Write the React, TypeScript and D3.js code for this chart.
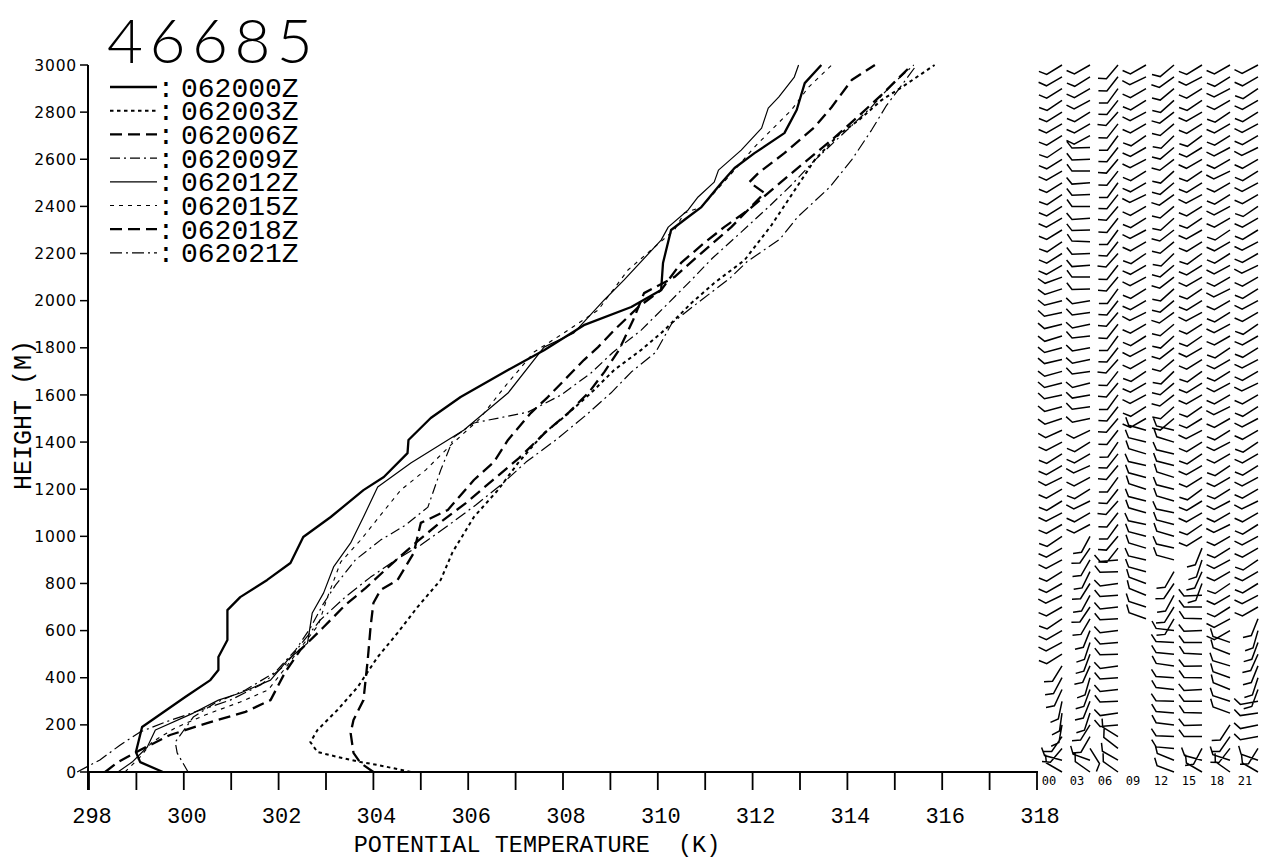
import React from 'react';
import * as d3 from 'd3';

const STATION = '46685';
const SERIES_LABELS = ['062000Z', '062003Z', '062006Z', '062009Z', '062012Z', '062015Z', '062018Z', '062021Z'];
const X_TICK_LABELS = [298, 300, 302, 304, 306, 308, 310, 312, 314, 316, 318];
const Y_TICK_LABELS = [0, 200, 400, 600, 800, 1000, 1200, 1400, 1600, 1800, 2000, 2200, 2400, 2600, 2800, 3000];
const X_LABEL = 'POTENTIAL TEMPERATURE  (K)';
const Y_LABEL = 'HEIGHT (M)';

// potential temperature profiles (K) and heights (m)
const H00 = [0, 42, 85, 191, 318, 390, 433, 488, 560, 687, 742, 815, 887, 997, 1082, 1196, 1252, 1353, 1409, 1502, 1591, 1706, 1790, 1896, 1973, 2045, 2160, 2300, 2355, 2397, 2499, 2563, 2626, 2711, 2809, 2923, 3000];
const T00 = [299.56, 299.08, 298.99, 299.12, 300.03, 300.56, 300.73, 300.73, 300.92, 300.92, 301.19, 301.76, 302.25, 302.52, 303.10, 303.79, 304.22, 304.72, 304.74, 305.21, 305.84, 306.84, 307.60, 308.44, 309.44, 310.07, 310.11, 310.28, 310.64, 310.92, 311.34, 311.62, 312.04, 312.67, 312.93, 313.10, 313.45];

const H03 = [0, 30, 42, 64, 85, 127, 178, 263, 361, 488, 590, 700, 815, 933, 1082, 1197, 1311, 1438, 1506, 1608, 1706, 1791, 1875, 1990, 2075, 2172, 2321, 2448, 2597, 2703, 2766, 2851, 2906, 3000];
const T03 = [304.79, 304.09, 303.73, 303.24, 302.82, 302.67, 302.82, 303.24, 303.67, 304.09, 304.51, 304.93, 305.42, 305.67, 306.12, 306.63, 307.05, 307.60, 308.02, 308.59, 309.08, 309.65, 310.14, 310.71, 311.19, 311.83, 312.40, 312.82, 313.31, 313.81, 314.24, 314.72, 315.15, 315.84];

const H06 = [0, 38, 81, 165, 221, 305, 475, 615, 717, 772, 815, 929, 1057, 1112, 1239, 1315, 1409, 1523, 1591, 1748, 1803, 1875, 1973, 2045, 2160, 2245, 2312, 2385, 2469, 2576, 2682, 2775, 2873, 3000];
const T06 = [304.00, 303.73, 303.58, 303.52, 303.58, 303.79, 303.88, 303.94, 304.00, 304.15, 304.51, 304.85, 305.00, 305.57, 306.12, 306.54, 306.84, 307.32, 307.68, 308.44, 308.74, 309.08, 309.59, 310.07, 310.49, 310.98, 311.40, 311.91, 312.40, 313.03, 313.67, 314.19, 314.72, 315.36];

const H09 = [0, 81, 127, 233, 293, 348, 424, 518, 611, 709, 793, 900, 984, 1048, 1124, 1281, 1421, 1481, 1527, 1600, 1693, 1780, 1875, 1995, 2088, 2180, 2291, 2400, 2491, 2590, 2703, 2820, 2915, 3000];
const T09 = [300.09, 299.86, 299.82, 300.20, 300.66, 301.30, 301.93, 302.36, 302.67, 302.93, 303.20, 303.62, 304.15, 304.68, 305.15, 305.42, 305.70, 306.12, 307.26, 307.96, 308.59, 309.05, 309.65, 310.25, 310.71, 311.15, 311.76, 312.35, 312.82, 313.28, 313.88, 314.50, 314.93, 315.40];

const H12 = [0, 42, 106, 178, 250, 305, 335, 390, 475, 547, 675, 760, 870, 972, 1082, 1209, 1311, 1451, 1608, 1803, 1863, 2003, 2088, 2257, 2312, 2385, 2440, 2503, 2554, 2639, 2732, 2817, 2864, 2949, 3000];
const T12 = [298.61, 298.91, 299.23, 299.40, 300.20, 300.73, 301.19, 301.83, 302.19, 302.61, 302.71, 302.95, 303.16, 303.52, 303.79, 304.09, 304.79, 305.91, 306.84, 307.60, 308.23, 308.87, 309.29, 310.07, 310.22, 310.64, 310.85, 311.19, 311.28, 311.76, 312.19, 312.33, 312.55, 312.88, 312.97];

const H15 = [0, 64, 127, 187, 242, 297, 348, 441, 526, 624, 730, 891, 984, 1090, 1197, 1281, 1387, 1494, 1642, 1782, 1863, 1960, 2130, 2215, 2300, 2372, 2397, 2554, 2652, 2711, 2809, 2906, 3000];
const T15 = [298.76, 299.08, 299.33, 299.82, 300.45, 301.19, 301.78, 302.14, 302.46, 302.84, 303.01, 303.31, 303.73, 304.15, 304.58, 305.10, 305.63, 306.22, 306.80, 307.39, 308.02, 308.74, 309.37, 309.86, 310.35, 310.56, 310.92, 311.62, 312.04, 312.33, 312.82, 313.18, 313.67];

const H18 = [0, 42, 93, 157, 212, 255, 305, 424, 518, 611, 709, 781, 878, 972, 1061, 1141, 1239, 1332, 1443, 1527, 1612, 1697, 1790, 1918, 2032, 2100, 2202, 2312, 2457, 2503, 2541, 2626, 2737, 2822, 2936, 3000];
const T18 = [298.34, 298.61, 299.08, 299.71, 300.56, 301.30, 301.83, 302.14, 302.46, 302.93, 303.41, 303.84, 304.36, 304.89, 305.42, 305.95, 306.52, 307.07, 307.64, 308.13, 308.55, 308.87, 309.18, 309.48, 309.71, 310.35, 310.92, 311.55, 312.25, 311.93, 312.12, 312.67, 313.31, 313.67, 314.09, 314.58];

const H21 = [0, 51, 115, 170, 212, 255, 305, 369, 454, 539, 645, 743, 827, 900, 963, 1048, 1133, 1218, 1315, 1409, 1515, 1608, 1697, 1780, 1905, 2003, 2095, 2165, 2262, 2355, 2480, 2597, 2724, 2830, 2915, 3000];
const T21 = [297.75, 298.23, 298.66, 299.08, 299.61, 300.24, 300.98, 301.62, 302.14, 302.46, 302.88, 303.41, 303.94, 304.47, 305.00, 305.59, 306.16, 306.69, 307.22, 307.85, 308.49, 309.01, 309.44, 309.95, 310.30, 310.92, 311.52, 311.88, 312.58, 312.95, 313.62, 314.09, 314.51, 314.83, 315.15, 315.46];

// wind profile panel: direction (deg) every 50 m, per sounding time
const WIND_COLUMNS = ['00', '03', '06', '09', '12', '15', '18', '21'];
const WIND_LEVELS = [0, 50, 100, 150, 200, 250, 300, 350, 400, 450, 500, 550, 600, 650, 700, 750, 800, 850, 900, 950, 1000, 1050, 1100, 1150, 1200, 1250, 1300, 1350, 1400, 1450, 1500, 1550, 1600, 1650, 1700, 1750, 1800, 1850, 1900, 1950, 2000, 2050, 2100, 2150, 2200, 2250, 2300, 2350, 2400, 2450, 2500, 2550, 2600, 2650, 2700, 2750, 2800, 2850, 2900, 2950, 3000];
const WD00 = [300, 285, 220, 215, 190, 188, 192, 205, 208, 212, 238, 242, 240, 236, 240, 244, 240, 238, 242, 240, 236, 240, 242, 238, 240, 244, 240, 238, 242, 246, 252, 255, 258, 256, 254, 257, 255, 253, 256, 258, 255, 252, 250, 240, 238, 236, 238, 240, 238, 236, 238, 240, 238, 236, 238, 240, 238, 236, 238, 240, 238];
const WD03 = [305, 290, 148, 210, 212, 198, 202, 200, 196, 204, 200, 198, 202, 210, 214, 208, 212, 206, 210, 214, 208, 242, 240, 244, 238, 242, 246, 240, 238, 244, 258, 262, 260, 256, 262, 258, 260, 264, 258, 262, 260, 268, 270, 266, 268, 272, 268, 266, 270, 268, 266, 270, 268, 268, 242, 240, 238, 242, 240, 238, 240];
const WD06 = [305, 300, 308, 302, 265, 262, 268, 264, 266, 262, 268, 265, 263, 267, 264, 266, 262, 268, 265, 218, 220, 216, 218, 222, 218, 216, 220, 218, 214, 218, 220, 218, 216, 220, 218, 222, 218, 216, 218, 220, 218, 216, 220, 218, 222, 218, 216, 218, 220, 218, 216, 218, 220, 218, 216, 218, 222, 218, 216, 218, 220];
const WD09 = [null, null, null, null, null, null, null, null, null, null, null, null, null, 290, 288, 292, 290, 285, 283, 287, 285, 282, 286, 284, 288, 285, 283, 287, 284, 286, 240, 238, 242, 240, 236, 240, 242, 238, 240, 244, 240, 238, 242, 240, 236, 240, 242, 238, 240, 244, 240, 238, 242, 240, 236, 240, 242, 238, 240, 244, 240];
const WD12 = [290, 292, 275, 273, 277, 275, 272, 276, 274, 278, 275, 273, 277, 210, 212, 208, 214, 210, 285, 283, 287, 285, 282, 286, 284, 288, 285, 283, 287, 284, 230, 228, 232, 230, 226, 230, 232, 228, 230, 234, 230, 228, 232, 230, 226, 230, 232, 228, 230, 234, 230, 228, 232, 230, 226, 230, 232, 228, 230, 234, 230];
const WD15 = [300, 285, 208, 270, 268, 272, 270, 267, 271, 269, 273, 270, 268, 272, 270, 268, 200, 204, 198, 202, 238, 236, 240, 238, 234, 238, 240, 236, 238, 242, 238, 236, 240, 238, 234, 238, 240, 236, 238, 242, 238, 236, 240, 238, 234, 238, 240, 236, 238, 242, 238, 236, 240, 238, 234, 238, 240, 236, 238, 242, 238];
const WD18 = [305, 288, 218, 215, 213, 290, 288, 292, 290, 287, 291, 289, 240, 242, 238, 240, 236, 240, 242, 238, 240, 244, 240, 242, 238, 240, 236, 240, 242, 238, 240, 244, 240, 242, 238, 240, 236, 240, 242, 238, 240, 244, 240, 242, 238, 240, 236, 240, 242, 238, 240, 244, 240, 242, 238, 240, 236, 240, 242, 238, 240];
const WD21 = [300, 290, 212, 260, 258, 262, 260, 200, 198, 202, 204, 200, 196, 202, 240, 242, 238, 240, 236, 240, 242, 238, 240, 244, 240, 242, 238, 240, 236, 240, 242, 238, 240, 244, 240, 242, 238, 240, 236, 240, 242, 238, 240, 244, 240, 242, 238, 240, 236, 240, 242, 238, 240, 244, 240, 242, 238, 240, 236, 240, 242];

const STYLES = [
  { w: 2.3, dash: '' },
  { w: 2.0, dash: '3.5 3.5' },
  { w: 2.3, dash: '12 6' },
  { w: 1.2, dash: '10 4 2 4' },
  { w: 1.2, dash: '' },
  { w: 1.1, dash: '4 5' },
  { w: 2.3, dash: '12 6' },
  { w: 1.2, dash: '12 4 2 4' },
];

export default function App() {
  const x = d3.scaleLinear().domain([298, 318]).range([89, 1037]);
  const y = d3.scaleLinear().domain([0, 3000]).range([772, 65]);
  const profiles: [number[], number[]][] = [
    [T00, H00], [T03, H03], [T06, H06], [T09, H09], [T12, H12], [T15, H15], [T18, H18], [T21, H21],
  ];
  const lineGen = d3.line<[number, number]>().x((d) => x(d[0])).y((d) => y(d[1]));
  const pathFor = (t: number[], h: number[]) => lineGen(t.map((v, i) => [v, h[i]] as [number, number])) || '';
  const minorTicks = x.ticks(20);
  const colX = d3.scalePoint<string>().domain(WIND_COLUMNS).range([1062, 1258]);
  const windCols = [WD00, WD03, WD06, WD09, WD12, WD15, WD18, WD21];
  const STAFF = 18;
  const FEATHER = 8.5;
  const rad = Math.PI / 180;

  const barbs: string[] = [];
  windCols.forEach((col, ci) => {
    const px = colX(WIND_COLUMNS[ci]) as number;
    col.forEach((dir, li) => {
      if (dir === null || dir === undefined) return;
      const py = y(WIND_LEVELS[li]);
      const phi = (dir - 90) * rad;
      const fx = px + STAFF * Math.cos(phi);
      const fy = py + STAFF * Math.sin(phi);
      const phi2 = phi + 54 * rad;
      const ex = fx + FEATHER * Math.cos(phi2);
      const ey = fy + FEATHER * Math.sin(phi2);
      barbs.push(`M${px.toFixed(1)},${py.toFixed(1)}L${fx.toFixed(1)},${fy.toFixed(1)}L${ex.toFixed(1)},${ey.toFixed(1)}`);
    });
  });

  const mono = '"Liberation Mono", "DejaVu Sans Mono", monospace';
  const legendY = (i: number) => 87 + i * 23.7;

  return (
    <svg width={1270} height={860} style={{ position: 'absolute', left: 0, top: 0, background: '#fff' }}>
      <rect x={0} y={0} width={1270} height={860} fill="#fff" />
      {/* title */}
      <text x={107} y={63} fontFamily='Lato, "DejaVu Sans", sans-serif' fontWeight={300} fontSize={62} letterSpacing={6.5} fill="#000">{STATION}</text>

      {/* legend */}
      {SERIES_LABELS.map((lab, i) => (
        <g key={lab}>
          <line x1={110} x2={157} y1={legendY(i)} y2={legendY(i)} stroke="#000" strokeWidth={STYLES[i].w} strokeDasharray={STYLES[i].dash || undefined} />
          <text x={166} y={legendY(i) + 9.5} textAnchor="middle" fontFamily={mono} fontSize={28} fill="#000">:</text>
          <text x={181} y={legendY(i) + 9.5} fontFamily={mono} fontSize={28} fill="#000">{lab}</text>
        </g>
      ))}

      {/* axes */}
      <line x1={88} x2={88} y1={65} y2={790} stroke="#000" strokeWidth={2} />
      <line x1={87} x2={1038} y1={772} y2={772} stroke="#000" strokeWidth={2} />
      {minorTicks.map((t) => (
        <line key={'xt' + t} x1={x(t)} x2={x(t)} y1={772} y2={790} stroke="#000" strokeWidth={1.8} />
      ))}
      {Y_TICK_LABELS.map((t) => (
        <line key={'yt' + t} x1={80} x2={88} y1={y(t)} y2={y(t)} stroke="#000" strokeWidth={1.5} />
      ))}
      {Y_TICK_LABELS.map((t) => (
        <text key={'yl' + t} x={77} y={y(t) + 5.6} textAnchor="end" fontFamily='"DejaVu Sans", sans-serif' fontSize={15.5} letterSpacing={0.8} fill="#000">{t}</text>
      ))}
      {X_TICK_LABELS.map((t) => (
        <text key={'xl' + t} x={x(t) + 3} y={823} textAnchor="middle" fontFamily={mono} fontSize={22} fill="#000">{t}</text>
      ))}
      <text x={537} y={852} textAnchor="middle" fontFamily={mono} fontSize={23.5} fill="#000" style={{ whiteSpace: 'pre' }}>{X_LABEL}</text>
      <text transform="translate(31,415) rotate(-90)" textAnchor="middle" fontFamily={mono} fontSize={25} fill="#000">{Y_LABEL}</text>

      {/* profiles */}
      {profiles.map(([t, h], i) => (
        <path key={'p' + i} d={pathFor(t, h)} fill="none" stroke="#000" strokeWidth={STYLES[i].w} strokeDasharray={STYLES[i].dash || undefined} strokeLinejoin="round" />
      ))}

      {/* wind barbs */}
      <path d={barbs.join('')} fill="none" stroke="#000" strokeWidth={1.5} strokeLinejoin="miter" />
      {WIND_COLUMNS.map((c) => (
        <text key={'wc' + c} x={(colX(c) as number) - 13} y={785} textAnchor="middle" fontFamily='"DejaVu Sans Mono", monospace' fontSize={12} fill="#000">{c}</text>
      ))}
    </svg>
  );
}
